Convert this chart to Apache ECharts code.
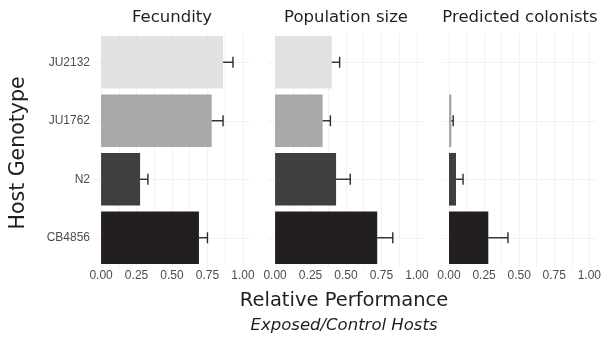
<!DOCTYPE html>
<html>
<head>
<meta charset="utf-8">
<script src="https://cdn.jsdelivr.net/npm/echarts@6/dist/echarts.min.js"></script>
<style>
  html, body { margin: 0; padding: 0; background: #fff; }
  #chart { width: 604px; height: 337px; }
</style>
</head>
<body>
<div id="chart"></div>
<script>
// host genotypes, top to bottom
const genotypes = ["JU2132", "JU1762", "N2", "CB4856"];
const panels = ["Fecundity", "Population size", "Predicted colonists"];

// mean relative performance (exposed / control)
const fecundity = [0.86, 0.78, 0.275, 0.69];
const popSize = [0.40, 0.335, 0.43, 0.72];
const colonists = [null, 0.017, 0.05, 0.28];

// upper error (se)
const fecunditySe = [0.07, 0.08, 0.055, 0.06];
const popSizeSe = [0.055, 0.055, 0.10, 0.11];
const colonistsSe = [null, 0.013, 0.05, 0.14];

const majorTicks = [0, 0.25, 0.5, 0.75, 1];
const gridTicks = [0, 0.125, 0.25, 0.375, 0.5, 0.625, 0.75, 0.875, 1];

const barColors = ["#e1e1e3", "#a7a8aa", "#3f3f3f", "#231f20"];

const values = [fecundity, popSize, colonists];
const errs = [fecunditySe, popSizeSe, colonistsSe];
const lefts = [94, 268, 442];

const chart = echarts.init(document.getElementById("chart"));

const grids = [], xAxes = [], yAxes = [], series = [];
panels.forEach((name, i) => {
  grids.push({ left: lefts[i], top: 33, width: 156, height: 234 });
  xAxes.push({
    type: "value",
    gridIndex: i,
    min: -0.05,
    max: 1.05,
    axisLine: { show: false },
    axisTick: { show: false, customValues: gridTicks },
    axisLabel: {
      customValues: majorTicks,
      formatter: v => v.toFixed(2),
      color: "#4d4d4d",
      fontFamily: "Liberation Sans",
      fontSize: 12,
      margin: 3
    },
    splitLine: { show: true, lineStyle: { color: "#f2f2f2", width: 1 } }
  });
  yAxes.push({
    type: "category",
    gridIndex: i,
    inverse: true,
    data: genotypes,
    axisLine: { show: false },
    axisTick: { show: false },
    splitLine: { show: false },
    axisLabel: {
      show: i === 0,
      color: "#4d4d4d",
      fontFamily: "Liberation Sans",
      fontSize: 12,
      margin: 4
    }
  });
  series.push({
    type: "bar",
    xAxisIndex: i,
    yAxisIndex: i,
    barCategoryGap: "10%",
    data: values[i].map((v, k) => ({
      value: v == null ? "-" : v,
      itemStyle: { color: barColors[k] }
    })),
    markLine: {
      silent: true,
      symbol: "none",
      label: { show: false },
      lineStyle: { color: "#f2f2f2", type: "solid", width: 1 },
      z: 0,
      data: genotypes.map(g => ({ yAxis: g }))
    },
    z: 2
  });
  series.push({
    type: "custom",
    xAxisIndex: i,
    yAxisIndex: i,
    z: 3,
    data: values[i].map((v, k) => v == null ? null : [v, v + errs[i][k], k]).filter(d => d),
    encode: { x: [0, 1], y: 2 },
    renderItem: (params, api) => {
      const a = api.coord([api.value(0), api.value(2)]);
      const b = api.coord([api.value(1), api.value(2)]);
      const cap = 5.5;
      const st = { stroke: "#2b2b2b", lineWidth: 1.4 };
      return {
        type: "group",
        children: [
          { type: "line", shape: { x1: a[0], y1: a[1], x2: b[0], y2: b[1] }, style: st },
          { type: "line", shape: { x1: b[0], y1: b[1] - cap, x2: b[0], y2: b[1] + cap }, style: st }
        ]
      };
    }
  });
});

const textColor = "#1f1f1f";
const graphics = panels.map((name, i) => ({
  type: "text",
  x: lefts[i] + 78,
  y: 18,
  style: {
    text: name,
    fill: textColor,
    font: "16.5px 'DejaVu Sans'",
    textAlign: "center",
    textVerticalAlign: "middle"
  }
}));
graphics.push({
  type: "text",
  x: 19,
  y: 153,
  rotation: Math.PI / 2,
  style: {
    text: "Host Genotype",
    fill: textColor,
    font: "20.5px 'DejaVu Sans'",
    textAlign: "center",
    textVerticalAlign: "middle"
  }
});
graphics.push({
  type: "text",
  x: 344,
  y: 301,
  style: {
    text: "Relative Performance",
    fill: textColor,
    font: "19.5px 'DejaVu Sans'",
    textAlign: "center",
    textVerticalAlign: "middle"
  }
});
graphics.push({
  type: "text",
  x: 344,
  y: 326,
  style: {
    text: "Exposed/Control Hosts",
    fill: textColor,
    font: "italic 16.5px 'DejaVu Sans'",
    textAlign: "center",
    textVerticalAlign: "middle"
  }
});

chart.setOption({
  animation: false,
  backgroundColor: "#ffffff",
  grid: grids,
  xAxis: xAxes,
  yAxis: yAxes,
  series: series,
  graphic: graphics
});
</script>
</body>
</html>
